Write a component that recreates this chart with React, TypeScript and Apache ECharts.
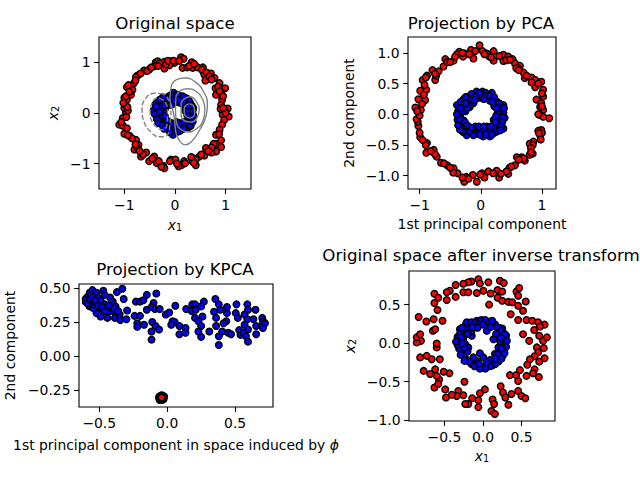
import React, { useEffect, useRef } from "react";
import * as echarts from "echarts";

type P = [number, number];

const origRed: P[] = [[.12,1.10],[.17,1.07],[-.08,1.02],[-.01,.99],[-.21,1.01],[-.38,1.0],[-.28,.95],[-.41,.92],[-.11,.94],[-.21,.88],[.15,.89],[.24,.90],[.33,1.0],[.35,.89],[.45,.90],[.55,.90],[.56,.82],[.58,.76],[.71,.78],[.78,.69],[.60,.64],[.88,.59],[.80,.49],[.99,.49],[.91,.41],[.81,.36],[.93,.26],[.91,.16],[1.04,.09],[.97,.07],[.94,-.03],[1.06,-.07],[.97,-.14],[.93,-.23],[.88,-.33],[.81,-.43],[.91,-.54],[.91,-.67],[.81,-.61],[.76,-.61],[.81,-.76],[.72,-.78],[.61,-.69],[.59,-.80],[.48,-.86],[.58,-.84],[.35,-.89],[.41,-.92],[.34,-.95],[.41,-1.03],[.18,-.95],[.15,-1.01],[.12,-1.03],[.07,-1.05],[-.08,-.92],[.01,-.92],[-.23,-1.04],[-.36,-.99],[-.21,-1.09],[-.41,-.86],[-.51,-.95],[-.57,-.78],[-.67,-.86],[-.72,-.63],[-.77,-.53],[-.80,-.72],[-.74,-.69],[-.90,-.45],[-1.0,-.41],[-1.10,-.23],[-1.03,-.25],[-.95,-.30],[-1.03,-.10],[-.97,.01],[-1.0,.10],[-.98,.16],[-.95,.26],[-1.0,.30],[-.87,.36],[-.95,.51],[-.84,.46],[-.81,.59],[-.74,.74],[-.77,.71],[-.61,.84],[-.51,.86],[-.34,1.02],[-.30,.98],[-.18,.96],[-.14,1.03],[-.03,1.03],[.08,1.03],[.28,.93],[.38,.97],[.53,.86],[.62,.80],[.68,.72],[.72,.66],[.85,.52],[.88,.43],[.95,.33],[.90,.08],[1.0,.0],[.95,.1],[.87,-.42],[.72,-.68],[.66,-.75],[.52,-.82],[.37,-.98],[.32,-.87],[.2,-.99],[.04,-1.0],[-.1,-.95],[-.27,-1.06],[-.32,-.95],[-.45,-.9],[-.63,-.82],[-.7,-.75],[-.78,-.62],[-.85,-.5],[-.93,-.44],[-1.06,-.18],[-.96,-.08],[-.93,.05],[-.94,.12],[-1.02,.2],[-.97,.33],[-.9,.42],[-.92,.55],[-.78,.64],[-.68,.78],[-.55,.83],[-.47,.9],[-.33,.93]];
const origBlue: P[] = [[-.03,.40],[-.02,.30],[.09,.34],[.13,.27],[-.18,.28],[-.27,.27],[-.33,.22],[-.26,.18],[-.15,.22],[-.08,.25],[-.38,.08],[-.30,.10],[-.27,.03],[-.42,.05],[-.33,-.03],[-.36,-.05],[-.29,-.10],[-.22,-.12],[-.19,-.20],[-.28,-.18],[-.12,-.20],[-.15,-.27],[-.05,-.26],[-.03,-.34],[-.04,-.43],[.07,-.29],[.14,-.28],[.20,-.26],[.27,-.28],[.30,-.20],[.27,-.12],[.33,-.10],[.28,-.05],[.27,.03],[.28,.12],[.30,.20],[.22,.22],[.10,.20],[.18,.15],[.05,.28],[-.20,.08],[-.25,-.05],[-.15,.15],[.02,.22],[.15,.25],[-.12,.33],[-.22,.22],[-.34,.13],[-.31,-.16],[-.10,-.33],[.02,-.22],[.12,-.21],[.22,-.17],[.36,.10],[.24,.28],[.33,.02],[.20,.05],[-.07,.16],[-.22,-.26],[.05,-.37],[-.38,.18],[-.32,.16],[-.37,.0],[-.4,-.02],[-.36,-.12],[-.33,-.2],[-.25,-.24],[-.21,-.31],[-.1,-.38],[.0,-.3],[.04,-.25],[.1,-.35],[.17,-.31],[.24,-.2],[.31,-.25],[.35,-.17],[.36,-.05],[.35,.05],[.33,.15],[.27,.25],[.2,.3],[.15,.33],[.05,.36],[-.08,.35],[-.15,.3],[-.24,.31],[-.3,.26],[-.25,.1],[-.22,.0],[-.2,-.06],[-.14,-.16],[-.07,-.2],[.03,-.18],[.08,-.2],[.18,-.18],[.24,-.04],[.23,.05],[.23,.15],[.15,.2],[.07,.25],[-.03,.25],[-.12,.27],[-.2,.15],[-.3,.03],[-.37,.13]];
const contour1: P[] = [[-.065,.56],[.03,.66],[.2,.69],[.39,.62],[.56,.43],[.64,.16],[.61,-.07],[.49,-.33],[.33,-.56],[.2,-.63],[.1,-.56],[.03,-.43],[0,-.23],[-.03,0],[-.1,.3],[-.065,.56]];
const contour2: P[] = [[.02,.33],[.12,.45],[.25,.48],[.41,.43],[.55,.26],[.59,.07],[.55,-.16],[.41,-.32],[.25,-.375],[.12,-.33],[.03,-.20],[.01,.07],[.02,.33]];
const contour3: P[] = [[.12,.2],[.18,.28],[.3,.32],[.41,.24],[.48,.07],[.43,-.1],[.32,-.18],[.18,-.145],[.12,-.03],[.12,.2]];
const contour4: P[] = [[.19,.13],[.28,.18],[.375,.12],[.39,0],[.3,-.1],[.2,-.05],[.18,.03],[.19,.13]];
const dashed1: P[] = [[-.24,.38],[-.41,.39],[-.57,.30],[-.65,.07],[-.6,-.2],[-.47,-.38],[-.31,-.47],[-.145,-.43],[-.1,-.2],[-.08,.1],[-.15,.3],[-.24,.38]];
const dashed2: P[] = [[-.22,.25],[-.34,.3],[-.49,0],[-.41,-.23],[-.24,-.33],[-.15,-.15],[-.15,.1],[-.22,.25]];

const pcaRed: P[] = [[-.02,1.125],[-.16,1.05],[-.09,1.03],[.03,1.03],[.10,.99],[.21,1.03],[-.35,1.02],[-.39,.98],[-.26,.99],[-.29,.94],[-.12,.91],[.14,.94],[.21,.875],[.37,.97],[.37,.87],[.45,.94],[.52,.90],[.56,.83],[.64,.79],[.61,.75],[.70,.68],[.72,.59],[.83,.60],[.89,.56],[.99,.53],[.89,.44],[1.02,.40],[.91,.24],[1.02,.29],[.99,.18],[1.02,.07],[.97,-.01],[1.12,-.065],[1.02,-.04],[.99,-.255],[.94,-.27],[.97,-.34],[.98,-.41],[.86,-.445],[.80,-.48],[.85,-.64],[.80,-.66],[.72,-.755],[.67,-.70],[.59,-.70],[.56,-.83],[.47,-.87],[.45,-.97],[.30,-1.03],[.26,-.92],[.125,-.93],[.02,-.96],[-.065,-1.10],[-.13,-.99],[-.24,-1.02],[-.27,-1.10],[-.38,-.96],[-.445,-.88],[-.55,-.83],[-.65,-.79],[-.72,-.69],[-.77,-.58],[-.89,-.625],[-.88,-.47],[-.99,-.375],[-1.02,-.19],[-1.03,-.12],[-.98,.07],[-1.07,.11],[-1.02,.245],[-.91,.23],[-.99,.385],[-.89,.40],[-.95,.56],[-.88,.63],[-.745,.56],[-.79,.72],[-.69,.70],[-.61,.78],[-.58,.90],[-.445,.875],[-.3,1.0],[-.19,.98],[.06,.98],[.17,.93],[.3,.95],[.42,.88],[.48,.89],[.58,.75],[.62,.72],[.75,.63],[.83,.52],[.94,.5],[1.0,.34],[.97,.12],[1.0,.13],[.94,.0],[1.0,-.3],[.95,-.31],[.85,-.5],[.82,-.55],[.82,-.62],[.7,-.72],[.62,-.74],[.5,-.85],[.42,-.93],[.33,-.97],[.2,-.96],[.06,-1.03],[-.01,-.98],[-.2,-1.05],[-.3,-1.03],[-.45,-.95],[-.5,-.87],[-.6,-.8],[-.75,-.65],[-.82,-.6],[-.9,-.5],[-.95,-.42],[-1.0,-.3],[-1.05,-.08],[-1.0,-.02],[-1.04,.05],[-.96,.17],[-.93,.32],[-.92,.48],[-.9,.6],[-.73,.63],[-.75,.66],[-.55,.85],[-.5,.85],[-.42,.94]];
const pcaBlue: P[] = [[-.07,.37],[.03,.37],[.18,.35],[.10,.29],[.26,.21],[.37,.15],[.37,.02],[.32,-.09],[.37,-.23],[.26,-.28],[.15,-.36],[.04,-.36],[-.07,-.31],[-.23,-.34],[-.31,-.20],[-.38,-.09],[-.34,-.01],[-.39,.15],[-.28,.245],[-.2,.29],[-.12,.18],[-.09,-.2],[.32,.07],[.21,-.09],[-.15,.33],[-.30,.13],[-.35,-.15],[-.24,-.25],[.02,-.25],[.12,-.28],[.21,-.22],[.30,-.16],[.39,-.06],[.22,.13],[.15,.22],[-.02,.27],[-.25,.05],[-.22,.19],[.29,.17],[-.16,-.30],[-.29,-.29],[.10,-.20],[-.04,.30],[.34,-.14],[.27,.01],[.08,.35],[-.18,.12],[-.28,-.10],[-.37,.05],[-.33,.2],[-.25,.28],[-.15,.25],[-.08,.3],[-.02,.35],[.08,.3],[.15,.3],[.22,.28],[.3,.18],[.33,.1],[.38,.1],[.36,-.05],[.35,-.13],[.33,-.2],[.32,-.26],[.22,-.3],[.18,-.33],[.08,-.33],[-.02,-.33],[-.12,-.34],[-.18,-.27],[-.3,-.27],[-.34,-.25],[-.37,-.18],[-.39,.0],[-.3,.05],[-.33,-.08],[-.26,-.13],[-.22,-.18],[-.15,-.22],[-.03,-.2],[.05,-.2],[.16,-.2],[.24,-.13],[.25,-.03],[.26,.1],[.19,.2],[.05,.25],[-.1,.23],[-.22,.1],[-.25,.18],[-.33,.1]];

const kpcaRed: P[] = [[-.058,-.30],[-.025,-.315],[-.04,-.29],[-.055,-.325],[-.03,-.295],[-.022,-.30],[-.06,-.31],[-.04,-.325],[-.048,-.295],[-.03,-.322],[-.052,-.318],[-.034,-.298],[-.05,-.30],[-.033,-.315],[-.047,-.314],[-.036,-.302],[-.041,-.307]];
const kpcaBlue: P[] = [[-.59,.43],[-.57,.465],[-.55,.485],[-.52,.465],[-.47,.48],[-.46,.45],[-.42,.43],[-.40,.40],[-.51,.43],[-.56,.40],[-.57,.365],[-.53,.38],[-.495,.39],[-.46,.38],[-.41,.395],[-.38,.365],[-.47,.34],[-.42,.33],[-.385,.325],[-.295,.335],[-.52,.315],[-.49,.29],[-.44,.28],[-.385,.28],[-.345,.265],[-.30,.27],[-.35,.305],[-.24,.295],[-.20,.295],[-.22,.24],[-.22,.215],[-.17,.23],[-.37,.47],[-.33,.495],[-.32,.42],[-.23,.40],[-.20,.40],[-.175,.41],[-.15,.45],[-.08,.46],[-.10,.39],[-.15,.34],[-.115,.36],[-.09,.345],[-.055,.345],[-.01,.305],[.015,.32],[.04,.255],[.055,.25],[.03,.23],[.09,.22],[.135,.205],[.09,.16],[.135,.17],[-.11,.25],[-.085,.22],[-.115,.18],[-.06,.195],[-.115,.12],[.06,.37],[.14,.345],[.185,.38],[.205,.38],[.18,.33],[.21,.34],[.27,.40],[.25,.365],[.26,.29],[.205,.28],[.23,.255],[.25,.22],[.23,.18],[.31,.18],[.25,.14],[.355,.42],[.38,.38],[.39,.34],[.345,.325],[.36,.28],[.44,.36],[.44,.315],[.435,.255],[.415,.24],[.36,.22],[.405,.18],[.38,.145],[.38,.08],[.45,.17],[.47,.16],[.51,.38],[.505,.315],[.52,.28],[.53,.19],[.54,.155],[.57,.305],[.59,.38],[.595,.34],[.59,.27],[.57,.23],[.65,.34],[.635,.27],[.595,.195],[.56,.17],[.58,.145],[.595,.105],[.655,.22],[.655,.16],[.70,.28],[.705,.255],[.695,.22],[.72,.24],[.705,.205],[-.60,.40],[-.58,.38],[-.54,.35],[-.50,.36],[-.44,.35],[-.58,.44],[-.56,.45],[-.49,.41],[-.6,.42],[-.59,.39],[-.57,.42],[-.55,.43],[-.53,.41],[-.51,.37],[-.48,.36],[-.46,.33],[-.43,.37],[-.39,.35],[-.36,.33]];

const backRed: P[] = [[-.06,.83],[-.15,.80],[-.19,.79],[-.255,.77],[-.355,.755],[-.43,.68],[-.47,.66],[-.63,.64],[-.58,.59],[-.47,.56],[-.355,.60],[-.255,.66],[-.19,.66],[-.08,.65],[.005,.68],[-.04,.775],[.07,.79],[.10,.645],[.08,.50],[.19,.69],[.19,.59],[.25,.67],[.22,.81],[.27,.78],[.25,.55],[.33,.535],[.38,.53],[.435,.67],[.47,.715],[.457,.615],[.457,.485],[.555,.54],[.52,.42],[.36,.375],[.457,.30],[.565,.30],[.64,.29],[.715,.27],[.80,.24],[.74,.215],[.665,.17],[.52,.115],[.60,.03],[.73,.095],[.78,.03],[.83,.075],[.70,-.055],[.79,-.065],[.715,-.12],[.67,-.17],[.80,-.195],[.73,-.24],[.61,-.21],[.575,-.28],[.67,-.34],[.65,-.39],[.725,-.44],[.565,-.425],[.48,-.35],[.35,-.415],[.43,-.415],[.457,-.49],[.23,-.56],[.26,-.64],[.29,-.705],[.33,-.80],[.37,-.66],[.457,-.62],[.50,-.685],[.55,-.715],[.125,-.73],[.145,-.79],[.11,-.88],[.155,-.92],[.025,-.60],[-.04,-.65],[-.06,-.74],[-.06,-.83],[-.14,-.715],[-.19,-.79],[-.23,-.79],[-.255,-.675],[-.32,-.62],[-.24,-.50],[-.34,-.685],[-.405,-.67],[-.48,-.705],[-.49,-.60],[-.57,-.47],[-.63,-.575],[-.58,-.53],[-.435,-.39],[-.51,-.37],[-.62,-.34],[-.685,-.40],[-.77,-.36],[-.60,-.425],[-.56,-.21],[-.665,-.21],[-.73,-.165],[-.815,-.185],[-.60,-.055],[-.60,-.005],[-.805,.03],[-.86,.01],[-.86,.075],[-.815,.115],[-.65,.16],[-.62,.18],[-.835,.34],[-.735,.28],[-.64,.31],[-.525,.29],[-.59,.43],[-.63,.52]];
const backBlue: P[] = [[-.125,.245],[.005,.275],[.11,.245],[-.275,.16],[-.19,.195],[-.08,.29],[.22,.195],[.26,.095],[.26,.01],[-.32,.04],[-.23,-.015],[-.19,-.055],[-.22,-.21],[-.04,-.13],[-.08,-.23],[-.08,-.295],[.005,-.185],[.09,-.22],[.07,-.295],[.175,-.23],[.255,-.165],[.155,-.14],[-.255,.05],[-.145,.095],[.05,.16],[.135,.05],[.2,-.055],[.22,.03],[-.275,-.10],[-.125,-.185],[.16,.24],[.25,.19],[.30,.10],[.29,-.03],[.27,-.10],[.20,-.24],[.12,-.29],[-.02,-.31],[-.15,-.27],[-.25,-.17],[-.31,-.07],[-.33,.08],[-.30,.18],[-.22,.25],[-.02,.30],[.06,.28],[.21,.14],[-.15,.15],[.19,-.15],[-.30,.12],[-.27,.2],[-.21,.27],[-.15,.27],[-.1,.26],[-.05,.24],[.03,.3],[.08,.27],[.12,.29],[.18,.21],[.24,.16],[.28,.12],[.31,.03],[.3,-.05],[.28,-.13],[.24,-.2],[.16,-.27],[.09,-.3],[.03,-.33],[-.04,-.33],[-.11,-.3],[-.18,-.24],[-.24,-.23],[-.29,-.15],[-.33,-.02],[-.35,.02],[-.28,.08],[-.2,.12],[.17,.12],[.23,.07],[.24,-.07],[.16,-.2],[.05,-.25],[-.05,-.27],[-.2,-.11],[-.24,-.06],[-.27,.0],[.1,.21],[.0,.24],[-.07,.2],[-.14,.21]];

const ticks1 = [-1, 0, 1];
const ticksPcaY = [-1, -0.5, 0, 0.5, 1];
const ticksKpcaX = [-0.5, 0, 0.5];
const ticksKpcaY = [-0.25, 0, 0.25, 0.5];
const ticksBackX = [-0.5, 0, 0.5];
const ticksBackY = [-1, -0.5, 0, 0.5];

const FONT = "DejaVu Sans";
const TICK = 13.9;

const rich = {
  i: { fontFamily: FONT, fontSize: 13.9, fontStyle: "italic", color: "#000" },
  s: { fontFamily: FONT, fontSize: 9.7, color: "#000", padding: [5, 0, 0, 0] },
  t: { fontFamily: FONT, fontSize: 13.9, color: "#000" },
};

function axis(
  dim: "x" | "y",
  gridIndex: number,
  min: number,
  max: number,
  ticks: number[],
  decimals: number,
  name: string,
  nameGap: number,
) {
  return {
    type: "value",
    gridIndex,
    min,
    max,
    name,
    nameLocation: "middle",
    nameGap,
    nameRotate: dim === "y" ? 90 : 0,
    nameTextStyle: { fontFamily: FONT, fontSize: TICK, color: "#000", rich },
    splitLine: { show: false },
    axisLine: { show: false, onZero: false },
    axisTick: {
      show: true,
      customValues: ticks,
      length: 4.9,
      lineStyle: { color: "#000", width: 1.1 },
    },
    axisLabel: {
      show: true,
      customValues: ticks,
      margin: 8.5,
      padding: dim === "y" ? [2, 0, 0, 0] : 0,
      fontFamily: FONT,
      fontSize: TICK,
      color: "#000",
      formatter: (v: number) => v.toFixed(decimals).replace("-", "\u2212"),
    },
  };
}

function dots(data: P[], color: string, index: number) {
  return {
    type: "scatter",
    xAxisIndex: index,
    yAxisIndex: index,
    data,
    symbol: "circle",
    symbolSize: 6.6,
    silent: true,
    clip: true,
    itemStyle: { color, borderColor: "#000", borderWidth: 1.4, opacity: 1 },
  };
}

function contour(data: P[], dashed: boolean) {
  return {
    type: "line",
    xAxisIndex: 0,
    yAxisIndex: 0,
    data,
    smooth: 0.5,
    showSymbol: false,
    silent: true,
    lineStyle: {
      color: "#808080",
      width: 1.39,
      type: dashed ? [5.1, 2.2] : "solid",
    },
  };
}

function title(text: string, left: number, top: number) {
  return {
    text,
    left,
    top,
    textAlign: "center",
    padding: 0,
    textStyle: {
      fontFamily: FONT,
      fontSize: 16.67,
      fontWeight: "normal",
      color: "#000",
    },
  };
}

function grid(left: number, right: number, top: number, bottom: number) {
  return {
    left,
    top,
    width: right - left,
    height: bottom - top,
    show: true,
    borderColor: "#000",
    borderWidth: 1.1,
    backgroundColor: "#fff",
    containLabel: false,
  };
}

export default function App() {
  const ref = useRef<HTMLDivElement>(null);
  useEffect(() => {
    const chart = echarts.init(ref.current!, null, {
      renderer: "svg",
      width: 640,
      height: 480,
    });
    chart.setOption({
      animation: false,
      backgroundColor: "#fff",
      title: [
        title("Original space", 175, 15),
        title("Projection by PCA", 481, 15),
        title("Projection by KPCA", 175, 261),
        title("Original space after inverse transform", 481, 247),
      ],
      grid: [
        grid(99, 251, 37, 189),
        grid(408, 556, 37, 189),
        grid(79, 273, 284, 407),
        grid(409, 555, 271, 421),
      ],
      xAxis: [
        axis("x", 0, -1.5, 1.5, ticks1, 0, "{i|x}{s|1}", 28),
        axis("x", 1, -1.19, 1.23, ticks1, 0, "1st principal component", 28),
        axis("x", 2, -0.649, 0.779, ticksKpcaX, 1, "{t|1st principal component in space induced by }{i|\u03d5}", 31),
        axis("x", 3, -0.96, 0.935, ticksBackX, 1, "{i|x}{s|1}", 27),
      ],
      yAxis: [
        axis("y", 0, -1.5, 1.5, ticks1, 0, "{i|x}{s|2}", 39),
        axis("y", 1, -1.217, 1.26, ticksPcaY, 1, "2nd component", 52),
        axis("y", 2, -0.377, 0.53, ticksKpcaY, 2, "2nd component", 62),
        axis("y", 3, -1.01, 0.936, ticksBackY, 1, "{i|x}{s|2}", 52),
      ],
      series: [
        dots(origRed, "#ff0000", 0),
        dots(origBlue, "#0000ff", 0),
        contour(contour1, false),
        contour(contour2, false),
        contour(contour3, false),
        contour(contour4, false),
        contour(dashed1, true),
        contour(dashed2, true),
        dots(pcaRed, "#ff0000", 1),
        dots(pcaBlue, "#0000ff", 1),
        dots(kpcaRed, "#ff0000", 2),
        dots(kpcaBlue, "#0000ff", 2),
        dots(backRed, "#ff0000", 3),
        dots(backBlue, "#0000ff", 3),
      ],
    });
    return () => chart.dispose();
  }, []);
  return (
    <div
      ref={ref}
      style={{ position: "absolute", left: 0, top: 0, width: 640, height: 480 }}
    />
  );
}
